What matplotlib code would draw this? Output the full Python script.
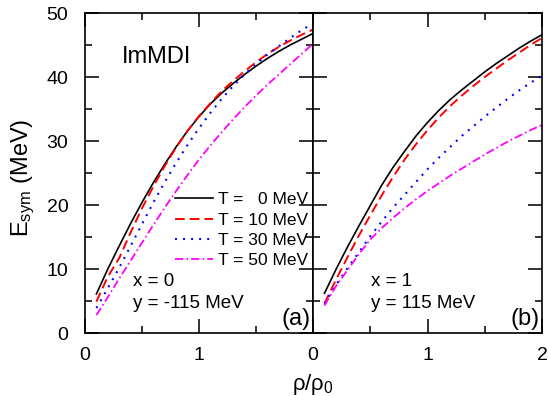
import matplotlib
matplotlib.use("Agg")
import matplotlib.pyplot as plt

plt.rcParams['font.family'] = ['Liberation Sans', 'DejaVu Sans']
plt.rcParams['mathtext.default'] = 'regular'
plt.rcParams['lines.scale_dashes'] = False

# density grid rho/rho0
rho = [0.1, 0.2, 0.3, 0.4, 0.5, 0.6, 0.7, 0.8, 0.9, 1.0,
       1.1, 1.2, 1.3, 1.4, 1.5, 1.6, 1.7, 1.8, 1.9, 2.0]

# panel (a): x = 0, y = -115 MeV
a_T0 = [6.1, 10.0, 13.6, 17.1, 20.4, 23.5, 26.4, 29.1, 31.6, 33.8,
        35.8, 37.5, 39.0, 40.4, 41.7, 42.9, 44.0, 45.0, 45.9, 46.8]
a_T10 = [4.9, 8.8, 11.7, 15.7, 19.5, 22.9, 26.1, 29.0, 31.6, 33.9,
         35.9, 37.8, 39.4, 40.9, 42.3, 43.6, 44.7, 45.7, 46.6, 47.4]
a_T30 = [3.9, 7.0, 10.2, 13.6, 17.0, 20.4, 23.6, 26.6, 29.4, 32.0,
         34.4, 36.6, 38.6, 40.4, 42.0, 43.5, 44.8, 46.1, 47.3, 48.4]
a_T50 = [2.8, 5.6, 8.5, 11.3, 14.1, 16.9, 19.6, 22.2, 24.7, 27.1,
         29.3, 31.4, 33.4, 35.3, 37.1, 38.8, 40.4, 42.0, 43.6, 45.2]

# panel (b): x = 1, y = 115 MeV
b_T0 = [6.2, 9.9, 13.4, 16.7, 19.9, 23.1, 25.9, 28.4, 30.8, 32.9,
        34.8, 36.5, 38.0, 39.4, 40.8, 42.1, 43.3, 44.5, 45.6, 46.6]
b_T10 = [4.6, 8.3, 11.8, 15.2, 18.4, 21.5, 24.4, 27.1, 29.5, 31.7,
         33.7, 35.5, 37.1, 38.6, 40.0, 41.3, 42.6, 43.8, 45.0, 46.1]
b_T30 = [4.6, 7.5, 10.1, 12.6, 15.1, 17.4, 19.6, 21.6, 23.6, 25.6,
         27.4, 29.1, 30.8, 32.3, 33.8, 35.2, 36.6, 37.9, 39.1, 40.2]
b_T50 = [4.3, 7.3, 9.8, 12.3, 14.6, 16.4, 18.0, 19.5, 20.9, 22.2,
         23.4, 24.6, 25.7, 26.8, 27.9, 28.9, 29.9, 30.8, 31.7, 32.5]

labels = ['T =   0 MeV', 'T = 10 MeV', 'T = 30 MeV', 'T = 50 MeV']
colors = ['black', 'red', 'blue', 'magenta']
dashes = [None, (7.0, 3.6), (1.4, 4.4), (6.0, 2.2, 1.2, 2.2)]
widths = [1.2, 1.4, 1.5, 1.3]

fig = plt.figure(figsize=(5.48, 3.96), dpi=100)
ax1 = fig.add_axes([85/548, 63/396, 228/548, 320/396])
ax2 = fig.add_axes([313/548, 63/396, 229/548, 320/396])

for ax, curves in ((ax1, (a_T0, a_T10, a_T30, a_T50)),
                   (ax2, (b_T0, b_T10, b_T30, b_T50))):
    for E, lab, c, d, lw in zip(curves, labels, colors, dashes, widths):
        line, = ax.plot(rho, E, color=c, lw=lw, label=lab)
        if d is not None:
            line.set_dashes(d)
    ax.set_xlim(0, 2)
    ax.set_ylim(0, 50)
    ax.set_xticks([0, 1, 2])
    ax.set_xticks([0.5, 1.5], minor=True)
    ax.set_yticks([0, 10, 20, 30, 40, 50])
    ax.set_yticks([5, 15, 25, 35, 45], minor=True)
    ax.tick_params(which='both', direction='in', top=True, right=True,
                   width=1.4, color='#333333', labelsize=14)
    ax.tick_params(which='major', length=10)
    ax.tick_params(which='minor', length=5)
    ax.tick_params(axis='x', pad=10)
    ax.tick_params(axis='y', pad=12)
    for s in ax.spines.values():
        s.set_linewidth(1.2)

ax1.set_xticklabels(['0', '1', ''])
ax2.set_yticklabels([])

ax1.text(0.162, 0.862, 'ImMDI', transform=ax1.transAxes, fontsize=17,
         ha='left', va='center')
ax1.text(0.21, 0.162, 'x = 0', transform=ax1.transAxes, fontsize=13.5,
         ha='left', va='center')
ax1.text(0.21, 0.093, 'y = -115 MeV', transform=ax1.transAxes, fontsize=13.5,
         ha='left', va='center')
ax1.text(0.988, 0.008, '(a)', transform=ax1.transAxes, fontsize=17,
         ha='right', va='bottom')

ax2.text(0.253, 0.162, 'x = 1', transform=ax2.transAxes, fontsize=13.5,
         ha='left', va='center')
ax2.text(0.253, 0.093, 'y = 115 MeV', transform=ax2.transAxes, fontsize=13.5,
         ha='left', va='center')
ax2.text(0.99, 0.008, '(b)', transform=ax2.transAxes, fontsize=17,
         ha='right', va='bottom')

ax1.legend(loc='upper left', bbox_to_anchor=(0.395, 0.44), frameon=False,
           fontsize=12.5, handlelength=2.2, handletextpad=0.3,
           labelspacing=0.3, borderpad=0, borderaxespad=0)

fig.text(23/548, 0.55, 'E$_{sym}$ (MeV)', rotation=90, fontsize=17,
         ha='center', va='center')
fig.text(313/548, 0.03, 'ρ/ρ$_0$', fontsize=16, ha='center', va='center')

fig.savefig('out.png', dpi=100)
